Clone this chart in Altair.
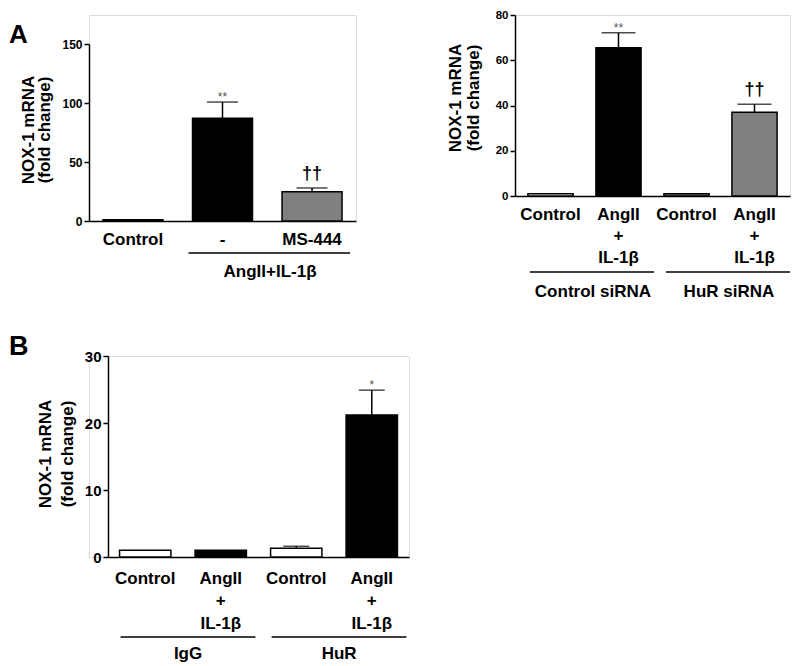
import altair as alt
import pandas as pd

FONT = "Liberation Sans"

# ---------------- data ----------------
# Panel A (left)
a1_keys = ["a#Control", "b#-", "c#MS-444"]
a1_values = [1.0, 87.0, 24.8]
a1_errors = [0.0, 13.8, 3.2]
a1_fills = ["white", "black", "#808080"]
a1_marks = ["", "**", "††"]
a1_groups = ["AngII+IL-1β"]
a1_group_start = ["b#-"]
a1_group_end = ["c#MS-444"]
a1_ticks = [0, 50, 100, 150]

# Panel A (right)
a2_keys = ["a#Control", "b#AngII|+|IL-1β", "c#Control", "d#AngII|+|IL-1β"]
a2_values = [1.0, 65.5, 1.0, 37.0]
a2_errors = [0.0, 6.6, 0.0, 3.5]
a2_fills = ["white", "black", "#808080", "#808080"]
a2_marks = ["", "**", "", "††"]
a2_groups = ["Control siRNA", "HuR siRNA"]
a2_group_start = ["a#Control", "c#Control"]
a2_group_end = ["b#AngII|+|IL-1β", "d#AngII|+|IL-1β"]
a2_ticks = [0, 20, 40, 60, 80]

# Panel B
b_keys = ["a#Control", "b#AngII|+|IL-1β", "c#Control", "d#AngII|+|IL-1β"]
b_values = [1.0, 1.0, 1.3, 21.2]
b_errors = [0.0, 0.0, 0.3, 3.7]
b_fills = ["white", "black", "white", "black"]
b_marks = ["", "", "", "*"]
b_groups = ["IgG", "HuR"]
b_group_start = ["a#Control", "c#Control"]
b_group_end = ["b#AngII|+|IL-1β", "d#AngII|+|IL-1β"]
b_ticks = [0, 10, 20, 30]

Y_TITLE = "NOX-1 mRNA|(fold change)"


def panel(keys, values, errors, fills, marks, groups, gstart, gend, ticks, ymax,
          letter, width, height, pin, pout, cap, tick_font,
          title_x, title_y, title_lh,
          label_pad, label_lh, line_y, line_off, line_off2, glabel_y, glabel_dx,
          letter_x, letter_y, letter_size, ytop=0, xstart=0, top_pad=False):
    df = pd.DataFrame({"key": keys, "value": values, "err": errors,
                       "fill": fills, "mark": marks})
    df["top"] = df["value"] + df["err"]
    gdf = pd.DataFrame({"label": groups, "start": gstart, "end": gend})

    xscale = alt.Scale(domain=keys, paddingInner=pin, paddingOuter=pout,
                       range=[xstart, width])
    yscale = alt.Scale(domain=[0, ymax], nice=False, zero=True,
                       range=[height, ytop])
    xaxis = alt.Axis(title=None, ticks=False, labelAngle=0,
                     labelExpr="split(split(datum.label, '#')[1], '|')",
                     labelFont=FONT, labelFontSize=17, labelFontWeight="bold",
                     labelColor="black", labelPadding=label_pad,
                     labelLineHeight=label_lh, labelBaseline="top",
                     domainColor="black", domainWidth=1.5)
    yaxis = alt.Axis(title=None, values=ticks, grid=False, offset=-xstart,
                     domainColor="black", domainWidth=1.5,
                     tickColor="black", tickWidth=1.5, tickSize=5,
                     labelFont=FONT, labelFontSize=tick_font,
                     labelFontWeight="bold", labelColor="black", labelPadding=2)

    def X(field, **kw):
        return alt.X(field, scale=xscale, axis=xaxis, **kw)

    def Y(field):
        return alt.Y(field, scale=yscale, axis=yaxis)

    base = alt.Chart(df)
    bars = base.mark_bar(stroke="black", strokeWidth=1.5).encode(
        x=X("key:N"), y=Y("value:Q"), fill=alt.Fill("fill:N", scale=None))

    edf = df[df["err"] > 0]
    whisk = alt.Chart(edf).mark_rule(color="black", strokeWidth=1.5).encode(
        x=X("key:N"), y=Y("value:Q"), y2="top:Q")
    caps = alt.Chart(edf).mark_tick(color="black", thickness=1.5, size=cap).encode(
        x=X("key:N"), y=Y("top:Q"))

    ast = alt.Chart(df[df["mark"].str.startswith("*")]).mark_text(
        font=FONT, fontSize=12, color="#555555", baseline="alphabetic", dy=-1
    ).encode(x=X("key:N"), y=Y("top:Q"), text="mark:N")
    dag = alt.Chart(df[df["mark"].str.startswith("†")]).mark_text(
        font=FONT, fontSize=18, fontWeight="bold", color="black",
        baseline="alphabetic", dy=-9
    ).encode(x=X("key:N"), y=Y("top:Q"), text="mark:N")

    grule = alt.Chart(gdf).mark_rule(color="black", strokeWidth=1.5,
                                      xOffset=line_off, x2Offset=line_off2).encode(
        x=X("start:N", bandPosition=0), x2=alt.X2("end:N", bandPosition=1),
        y=alt.value(line_y))
    glabel = alt.Chart(gdf).mark_text(font=FONT, fontSize=17, fontWeight="bold",
                                       color="black", baseline="middle",
                                       dx=glabel_dx).encode(
        x=X("end:N", bandPosition=0), y=alt.value(glabel_y), text="label:N")

    ldf = pd.DataFrame({"t": [letter]})
    ytitle = alt.Chart(ldf).mark_text(font=FONT, fontSize=17, fontWeight="bold",
                                      color="black", angle=270, align="center",
                                      baseline="alphabetic", lineBreak="|",
                                      lineHeight=title_lh).encode(
        x=alt.value(xstart + title_x), y=alt.value(title_y),
        text=alt.value(Y_TITLE))

    layers = [bars, whisk, caps, ast, dag, grule, glabel, ytitle]
    if letter:
        let = alt.Chart(ldf).mark_text(font=FONT, fontSize=letter_size,
                                       fontWeight="bold", color="black",
                                       align="left", baseline="alphabetic").encode(
            x=alt.value(xstart + letter_x), y=alt.value(letter_y), text="t:N")
        layers.append(let)
    if top_pad:
        # invisible twin of the neighbour's top tick label, so both tops match
        sp = alt.Chart(ldf).mark_text(font=FONT, fontSize=11.5, fontWeight="bold",
                                      opacity=0, baseline="middle").encode(
            x=alt.value(0), y=alt.value(0), text=alt.value("8"))
        layers.append(sp)
    return alt.layer(*layers).properties(width=width, height=height)


# A-left: plot area starts level with A-right's top; its y range begins 29px lower
a1 = panel(a1_keys, a1_values, a1_errors, a1_fills, a1_marks, a1_groups,
           a1_group_start, a1_group_end, a1_ticks, 150, "A",
           width=267, height=206, pin=0.33, pout=0.156, cap=31, tick_font=12,
           title_x=-55, title_y=115, title_lh=15.5,
           label_pad=10, label_lh=21,
           line_y=238, line_off=-4, line_off2=8, glabel_y=257, glabel_dx=-12,
           letter_x=-80, letter_y=28, letter_size=26, ytop=29, top_pad=True)

a2 = panel(a2_keys, a2_values, a2_errors, a2_fills, a2_marks, a2_groups,
           a2_group_start, a2_group_end, a2_ticks, 80, "",
           width=275, height=181, pin=0.336, pout=0.19, cap=34, tick_font=11.5,
           title_x=-54, title_y=83, title_lh=18,
           label_pad=10, label_lh=21.5,
           line_y=257, line_off=2, line_off2=13, glabel_y=277, glabel_dx=-3,
           letter_x=0, letter_y=0, letter_size=1)

# B: shares its left edge with A-left, its plot starts 19px further right
b = panel(b_keys, b_values, b_errors, b_fills, b_marks, b_groups,
          b_group_start, b_group_end, b_ticks, 30, "B",
          width=320, height=201, pin=0.32, pout=0.153, cap=26, tick_font=15,
          title_x=-57, title_y=98, title_lh=22,
          label_pad=13, label_lh=22.5,
          line_y=281, line_off=1, line_off2=9, glabel_y=298, glabel_dx=-7,
          letter_x=-99, letter_y=-1, letter_size=27, xstart=19)

chart = alt.concat(a1, a2, b, columns=2,
                   spacing=alt.RowColnumber(row=31, column=36),
                   align="none").properties(padding=0).configure_view(
    strokeWidth=0).configure(font=FONT)

chart.save("out.html", embed_options={"renderer": "svg", "actions": False})
